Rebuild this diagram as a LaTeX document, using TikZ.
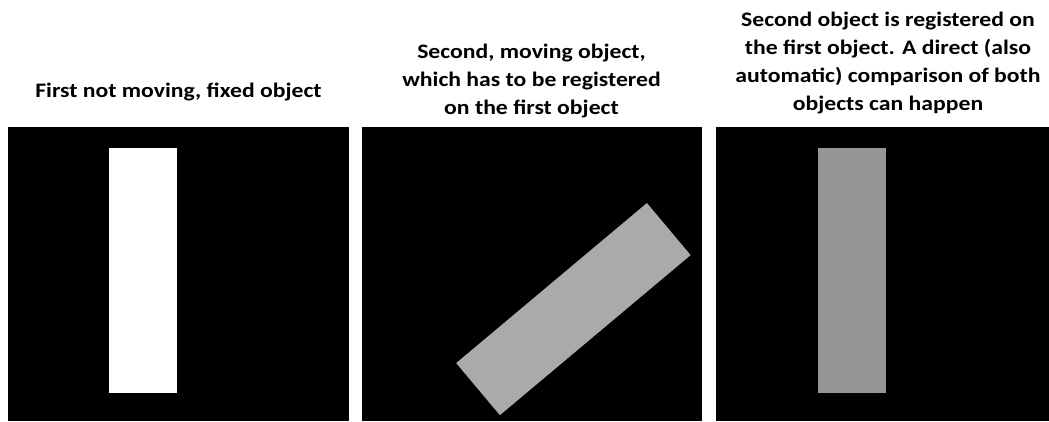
\documentclass[tikz,border=0pt]{standalone}
\usepackage{fontspec}
\setmainfont{Carlito}
\definecolor{movgray}{RGB}{170,170,170}
\definecolor{reggray}{RGB}{150,150,150}
\begin{document}
\begin{tikzpicture}[x=1pt,y=-1pt,
  panel/.style={fill=black,draw=none},
  objbox/.style={draw=none,inner sep=0pt,outer sep=0pt,minimum width=68pt,minimum height=245pt},
  caption/.style={font=\bfseries\fontsize{20.6}{28}\selectfont,align=center,anchor=base,inner sep=0pt,xscale=1.15,transform shape}]
\useasboundingbox (0,0) rectangle (1049,421);
\fill[white] (0,0) rectangle (1049,421);
% panels
\fill[panel] (8,127) rectangle (349,421);
\fill[panel] (362,127) rectangle (702,421);
\fill[panel] (716,127) rectangle (1049,421);
% objects
\node[objbox,fill=white,anchor=north west] (fixed) at (109.3,148.3) {};
\node[objbox,fill=movgray,minimum height=249pt,rotate=-50] (moving) at (573.4,309.1) {};
\node[objbox,fill=reggray,anchor=north west] (registered) at (818,148.3) {};
% captions
\node[caption] (cap1) at (178.5,97) {First not moving, fixed object};
\node[caption] (cap2) at (531.5,114) {Second, moving object,\\which has to be registered\\on the first object};
\node[caption] (cap3) at (888,110) {Second object is registered on\\the first object. A direct (also\\automatic) comparison of both\\objects can happen};
\end{tikzpicture}
\end{document}
